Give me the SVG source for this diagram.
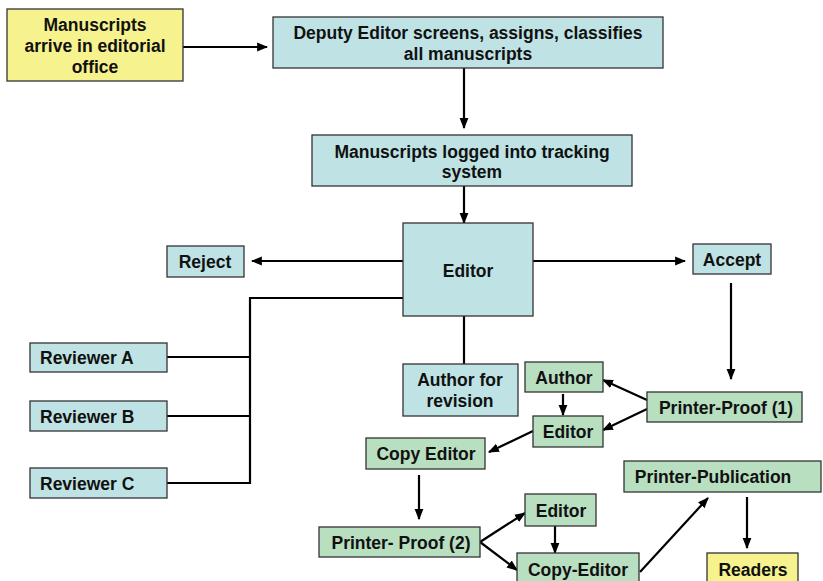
<svg xmlns="http://www.w3.org/2000/svg" width="823" height="581" viewBox="0 0 823 581">
<style>
.b{fill:#bfe3e4;stroke:#333;stroke-width:1.3}
.g{fill:#b9dfc1;stroke:#333;stroke-width:1.3}
.y{fill:#f6f28e;stroke:#333;stroke-width:1.3}
text{font-family:"Liberation Sans",Arial,sans-serif;font-weight:bold;font-size:17.5px;fill:#111;text-anchor:middle}
text.l{text-anchor:start}
.c line,.c polyline{stroke:#000;stroke-width:2.2;fill:none}
.a{marker-end:url(#ah)}
</style>
<defs>
<marker id="ah" viewBox="0 0 10 10" refX="9" refY="5" markerWidth="5" markerHeight="5" markerUnits="strokeWidth" orient="auto">
<path d="M0,1 L10,5 L0,9 z" fill="#000"/>
</marker>
</defs>
<rect width="823" height="581" fill="#fff"/>
<g class="c">
<line class="a" x1="183" y1="47" x2="267" y2="47"/>
<line class="a" x1="464" y1="68" x2="464" y2="128"/>
<line class="a" x1="464" y1="186" x2="464" y2="223"/>
<line class="a" x1="403" y1="261" x2="252" y2="261"/>
<line class="a" x1="533" y1="261" x2="685" y2="261"/>
<polyline points="403,298 250,298 250,483 167,483"/>
<line x1="167" y1="357" x2="250" y2="357"/>
<line x1="167" y1="416" x2="250" y2="416"/>
<line x1="464" y1="313" x2="464" y2="364"/>
<line class="a" x1="731" y1="283" x2="731" y2="379"/>
<line class="a" x1="647" y1="400" x2="603" y2="380"/>
<line class="a" x1="647" y1="409" x2="603" y2="430"/>
<line class="a" x1="563" y1="394" x2="563" y2="415"/>
<line class="a" x1="533" y1="431" x2="489" y2="452"/>
<line class="a" x1="419" y1="475" x2="419" y2="519"/>
<line class="a" x1="480" y1="542" x2="525" y2="513"/>
<line class="a" x1="480" y1="542" x2="517" y2="570"/>
<line class="a" x1="555" y1="526" x2="555" y2="553"/>
<line class="a" x1="640" y1="572" x2="708" y2="498"/>
<line class="a" x1="747" y1="497" x2="747" y2="548"/>
</g>
<g id="n-arrive"><rect class="y" x="7" y="9" width="176" height="72"/><text x="95" y="31">Manuscripts</text><text x="95" y="52">arrive in editorial</text><text x="95" y="73">office</text></g>
<g id="n-deputy"><rect class="b" x="273" y="17" width="390" height="51"/><text x="468" y="39">Deputy Editor screens, assigns, classifies</text><text x="468" y="60">all manuscripts</text></g>
<g id="n-logged"><rect class="b" x="312" y="135" width="320" height="51"/><text x="472" y="158">Manuscripts logged into tracking</text><text x="472" y="178">system</text></g>
<g id="n-editor"><rect class="b" x="403" y="223" width="130" height="93"/><text x="468" y="277">Editor</text></g>
<g id="n-reject"><rect class="b" x="167" y="246" width="77" height="31"/><text x="205" y="268">Reject</text></g>
<g id="n-accept"><rect class="b" x="693" y="244" width="78" height="30"/><text x="732" y="266">Accept</text></g>
<g id="n-revA"><rect class="b" x="30" y="343" width="137" height="29"/><text class="l" x="40" y="364">Reviewer A</text></g>
<g id="n-revB"><rect class="b" x="30" y="401" width="137" height="30"/><text class="l" x="40" y="423">Reviewer B</text></g>
<g id="n-revC"><rect class="b" x="30" y="468" width="137" height="30"/><text class="l" x="40" y="490">Reviewer C</text></g>
<g id="n-authrev"><rect class="b" x="403" y="364" width="115" height="52"/><text x="460" y="386">Author for</text><text x="460" y="407">revision</text></g>
<g id="n-author"><rect class="g" x="525" y="362" width="78" height="30"/><text x="564" y="384">Author</text></g>
<g id="n-proof1"><rect class="g" x="647" y="392" width="155" height="30"/><text x="726" y="414">Printer-Proof (1)</text></g>
<g id="n-editor2"><rect class="g" x="533" y="416" width="70" height="31"/><text x="568" y="438">Editor</text></g>
<g id="n-copyed"><rect class="g" x="366" y="438" width="119" height="31"/><text x="426" y="460">Copy Editor</text></g>
<g id="n-proof2"><rect class="g" x="319" y="527" width="161" height="30"/><text x="401" y="549">Printer- Proof (2)</text></g>
<g id="n-editor3"><rect class="g" x="525" y="494" width="71" height="32"/><text x="561" y="517">Editor</text></g>
<g id="n-copyed2"><rect class="g" x="517" y="553" width="122" height="40"/><text x="578" y="576">Copy-Editor</text></g>
<g id="n-pub"><rect class="g" x="624" y="461" width="197" height="31"/><text x="713" y="483">Printer-Publication</text></g>
<g id="n-readers"><rect class="y" x="707" y="553" width="91" height="40"/><text x="753" y="576">Readers</text></g>
</svg>
